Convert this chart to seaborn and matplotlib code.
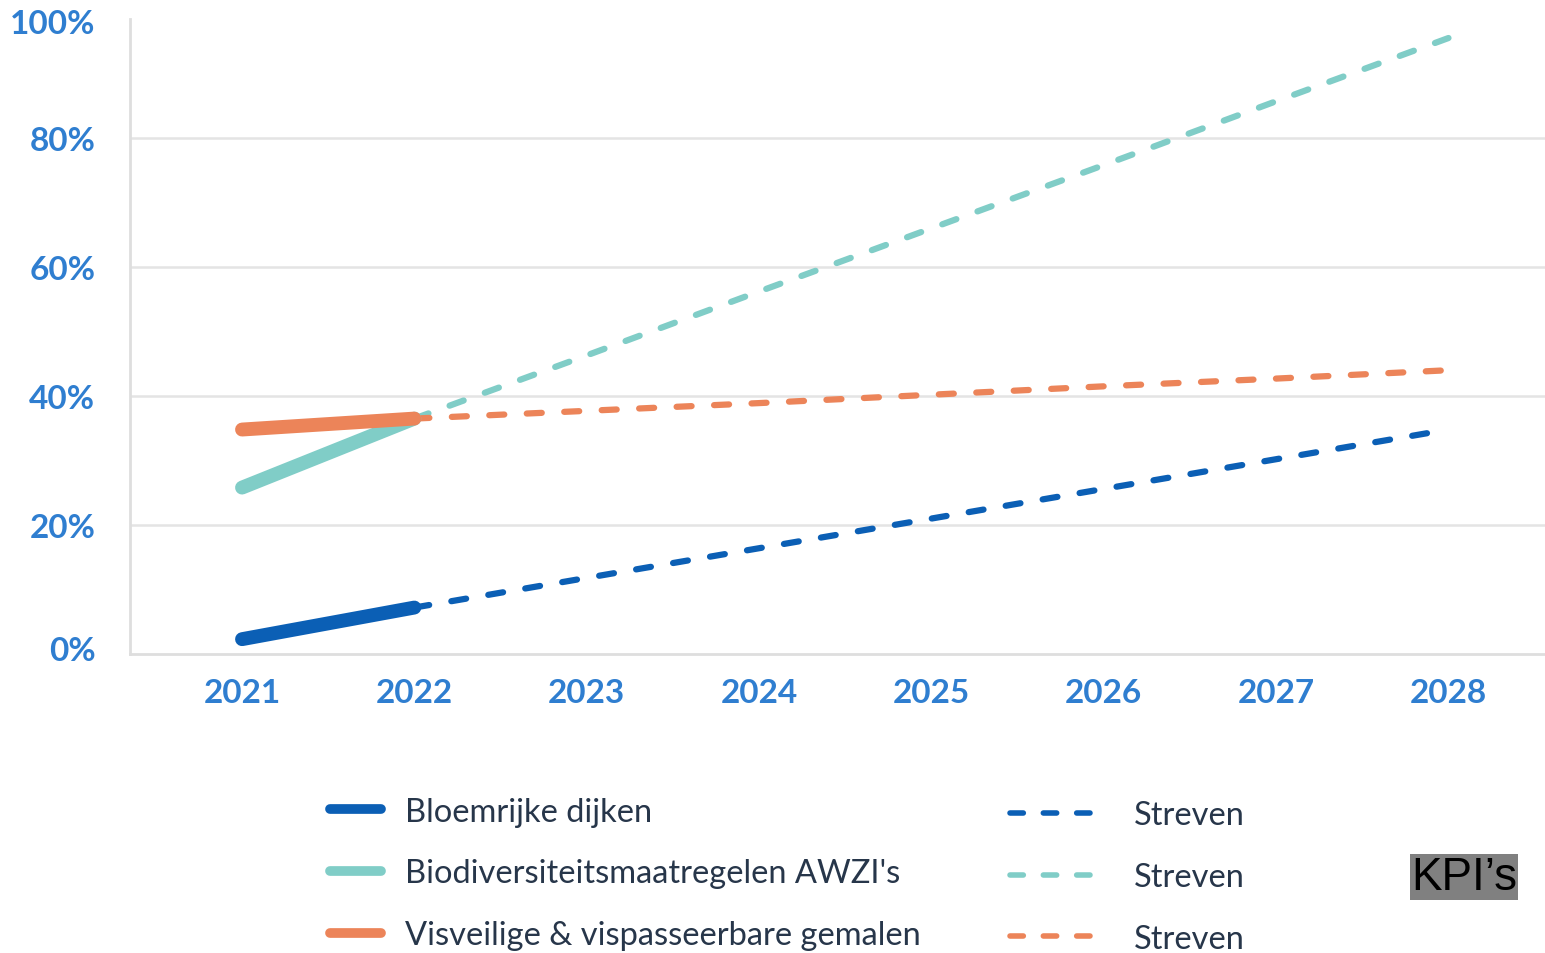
import matplotlib
matplotlib.use("Agg")
import matplotlib.pyplot as plt
from matplotlib.lines import Line2D
from matplotlib.transforms import ScaledTranslation
import seaborn as sns
import pandas as pd

# ---- data ----
years_actual = [2021, 2022]
years_target = [2022, 2023, 2024, 2025, 2026, 2027, 2028]

dijken_actual = [2.3, 7.2]
dijken_target = [7.2, 11.8, 16.4, 21.0, 25.6, 30.2, 34.8]

awzi_actual = [25.8, 36.5]
awzi_target = [36.5, 46.3, 56.2, 66.0, 75.8, 85.7, 95.5]

gemalen_actual = [34.8, 36.5]
gemalen_target = [36.5, 37.7, 38.9, 40.2, 41.5, 42.7, 44.0]

series_labels = ["Bloemrijke dijken", "Biodiversiteitsmaatregelen AWZI's",
                 "Visveilige & vispasseerbare gemalen"]
target_label = "Streven"
y_ticks = [0, 20, 40, 60, 80, 100]
y_tick_labels = ["0%", "20%", "40%", "60%", "80%", "100%"]
x_ticks = [2021, 2022, 2023, 2024, 2025, 2026, 2027, 2028]

# ---- style ----
BLUE = "#0b5fb5"
TEAL = "#80cdc7"
ORANGE = "#ec8459"
TICK_COLOR = "#2f7ed0"
TEXT_COLOR = "#27364a"

sns.set_theme(style="white")
plt.rcParams["font.family"] = ["Lato", "DejaVu Sans"]

fig = plt.figure(figsize=(15.45, 9.54), dpi=100)
ax = fig.add_axes([130 / 1545, 1 - 655 / 954, 1 - 130 / 1545, (655 - 10) / 954])

solid_lw = 10
dash_lw = 4.5
dash_pat = (2.4, 3.6)

def solid(x, y, color, z):
    sns.lineplot(x=x, y=y, ax=ax, color=color, linewidth=solid_lw,
                 solid_capstyle="round", zorder=z)

def dashed(x, y, color, z):
    sns.lineplot(x=x, y=y, ax=ax, color=color, linewidth=dash_lw, zorder=z)
    ln = ax.lines[-1]
    ln.set_dashes(dash_pat)
    ln.set_dash_capstyle("round")

dashed(years_target, awzi_target, TEAL, 3)
dashed(years_target, gemalen_target, ORANGE, 3)
dashed(years_target, dijken_target, BLUE, 3)
solid(years_actual, awzi_actual, TEAL, 4)
solid(years_actual, gemalen_actual, ORANGE, 5)
solid(years_actual, dijken_actual, BLUE, 5)

ax.set_xlim(2020.35, 2028.56)
ax.set_ylim(0, 100)
ax.set_yticks(y_ticks)
ax.set_yticklabels(y_tick_labels)
ax.set_xticks(x_ticks)
ax.set_xticklabels([str(y) for y in x_ticks])
ax.tick_params(axis="y", length=0, pad=25, labelsize=24, labelcolor=TICK_COLOR)
ax.tick_params(axis="x", length=0, pad=17, labelsize=24, labelcolor=TICK_COLOR)
for lab in ax.get_xticklabels() + ax.get_yticklabels():
    lab.set_fontweight("bold")
ylabs = ax.get_yticklabels()
ylabs[-1].set_transform(ylabs[-1].get_transform() + ScaledTranslation(0, -12 / 100, fig.dpi_scale_trans))
ylabs[0].set_transform(ylabs[0].get_transform() + ScaledTranslation(0, 6 / 100, fig.dpi_scale_trans))

for v in [20, 40, 60, 80]:
    ax.axhline(v, color="#e4e4e4", lw=1.8, zorder=1)
for s in ["top", "right"]:
    ax.spines[s].set_visible(False)
ax.spines["left"].set_color("#dedede")
ax.spines["left"].set_linewidth(2)
ax.spines["left"].set_bounds(0, 98.5)
ax.spines["bottom"].set_color("#dedede")
ax.spines["bottom"].set_linewidth(2)
ax.set_xlabel("")
ax.set_ylabel("")

# ---- legends ----
colors = [BLUE, TEAL, ORANGE]
h1 = [Line2D([0], [0], color=c, lw=7, solid_capstyle="round") for c in colors]
h2 = [Line2D([0], [0], color=c, lw=4, dashes=(2.4, 3.6), dash_capstyle="round") for c in colors]

leg1 = fig.legend(h1, series_labels, loc="center left",
                  bbox_to_anchor=(330 / 1545, 1 - 874.5 / 954), frameon=False,
                  fontsize=23.5, handlelength=1.55, handletextpad=0.75,
                  labelspacing=0.97, borderpad=0, borderaxespad=0)
leg2 = fig.legend(h2, [target_label] * 3, loc="center left",
                  bbox_to_anchor=(1010 / 1545, 1 - 878 / 954), frameon=False,
                  fontsize=23.5, handlelength=2.75, handletextpad=1.05,
                  labelspacing=0.97, borderpad=0, borderaxespad=0)
for leg in (leg1, leg2):
    for t in leg.get_texts():
        t.set_color(TEXT_COLOR)

fig.text(1464 / 1545, 1 - 878 / 954, "KPI’s", ha="center", va="center",
         fontsize=33, family=["Liberation Sans", "DejaVu Sans"], color="black",
         bbox=dict(facecolor="#808080", edgecolor="none", pad=1))

fig.savefig("out.png", dpi=100)
